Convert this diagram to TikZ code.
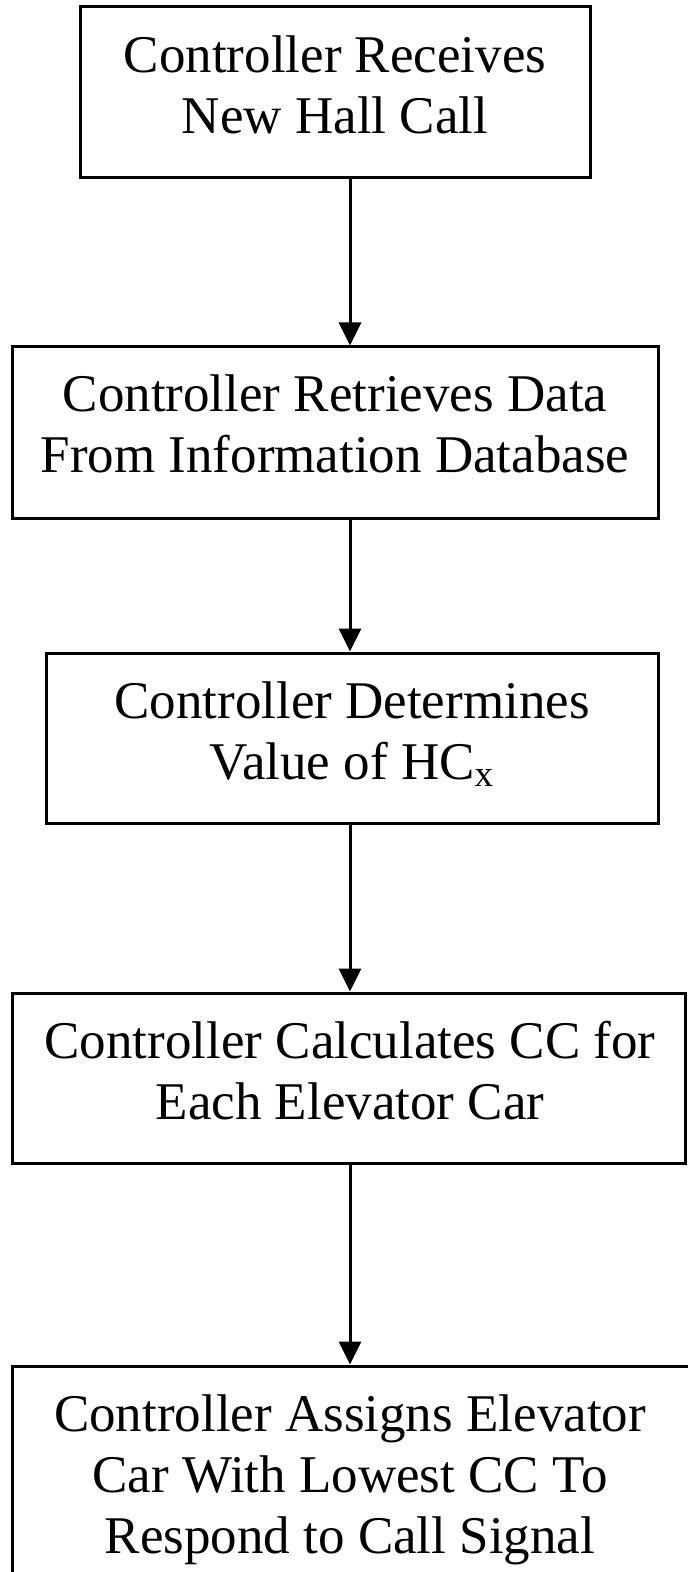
\documentclass[tikz,border=0pt]{standalone}
\usepackage{fontspec}
\setmainfont{Liberation Serif}
\usetikzlibrary{arrows.meta}
\begin{document}
\begin{tikzpicture}[x=0.5pt,y=-0.5pt,
  stepbox/.style={draw, line width=1.5pt, rectangle, inner sep=0pt},
  steptext/.style={align=center, inner sep=0pt, font=\fontsize{26.5}{30.5}\selectfont},
  flow/.style={line width=1.5pt, -{Triangle[length=11.5pt,width=11pt]}}]
\useasboundingbox (0,0) rectangle (687,1572);
\fill[white] (0,0) rectangle (687,1572);
\coordinate (ax) at (350,0);
% boxes
\node[stepbox, minimum width=255pt, minimum height=85.5pt] (b1) at (335,92.5) {};
\node[stepbox, minimum width=323pt, minimum height=85.5pt] (b2) at (335,432.5) {};
\node[stepbox, minimum width=306pt, minimum height=85pt] (b3) at (352,738) {};
\node[stepbox, minimum width=336.5pt, minimum height=85pt] (b4) at (348.5,1078) {};
\node[stepbox, minimum width=350pt, minimum height=120pt] (b5) at (362,1486) {};
% texts
\node[steptext] (t1) at (335,84.5) {Controller Receives\\New Hall Call};
\node[steptext] (t2) at (335,424) {Controller Retrieves Data\\From Information Database};
\node[steptext] (t3) at (352,734) {Controller Determines\\Value of HC\textsubscript{x}};
\node[steptext] (t4) at (350,1070.5) {Controller Calculates CC for\\Each Elevator Car};
\node[steptext] (t5) at (350,1480) {Controller Assigns Elevator\\Car With Lowest CC To\\Respond to Call Signal};
% connectors
\draw[flow] (b1.south -| ax) -- (b2.north -| ax);
\draw[flow] (b2.south -| ax) -- (b3.north -| ax);
\draw[flow] (b3.south -| ax) -- (b4.north -| ax);
\draw[flow] (b4.south -| ax) -- (b5.north -| ax);
\end{tikzpicture}
\end{document}
